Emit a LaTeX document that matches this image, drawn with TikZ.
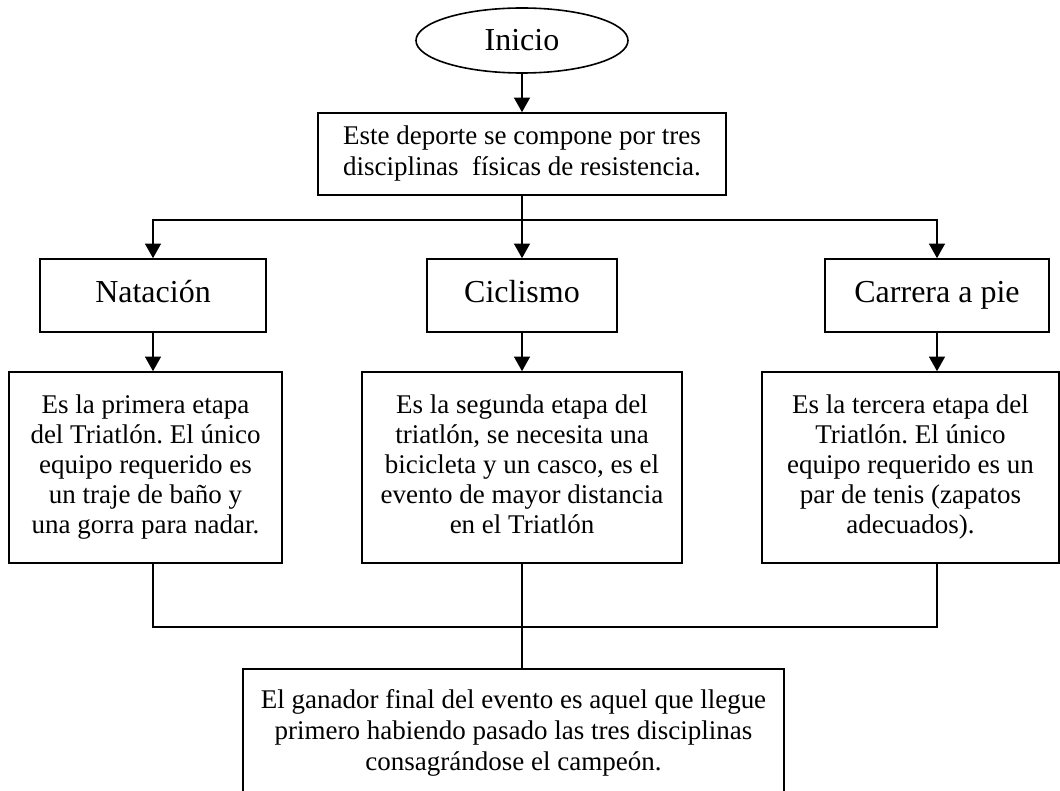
\documentclass[tikz,border=0pt]{standalone}
\usepackage{fontspec}
\setmainfont{Liberation Serif}
\usetikzlibrary{arrows.meta,shapes.geometric}
\frenchspacing
\begin{document}
\begin{tikzpicture}[x=0.75pt,y=-0.75pt,
  box/.style={draw,line width=1.2pt,rectangle,inner sep=0pt,align=center},
  head/.style={box,font=\fontsize{24}{28}\selectfont,minimum height=54.75pt},
  txt/.style={box,font=\fontsize{20.25}{22.5}\selectfont,minimum height=143.25pt},
  arr/.style={line width=1.2pt,-{Triangle[width=12pt,length=11pt]}},
  con/.style={line width=1.2pt}]
\path[use as bounding box,clip] (0,0) rectangle (1060,791);

\node[draw,ellipse,line width=1.2pt,minimum width=159pt,minimum height=48.75pt,inner sep=0pt,font=\fontsize{24}{28}\selectfont] (inicio) at (522,40.5) {\raisebox{-2pt}{Inicio}};
\node[box,font=\fontsize{20.25}{23.25}\selectfont,minimum width=306pt,minimum height=61.5pt] (intro) at (522,154) {\strut Este deporte se compone por tres\\disciplinas\ \ físicas de resistencia.\strut};

\node[head,minimum width=169.5pt] (nat) at (153,295.5) {\strut Natación};
\node[head,minimum width=142.5pt] (cic) at (522,295.5) {\strut Ciclismo};
\node[head,minimum width=168pt] (car) at (937,295.5) {\strut Carrera a pie};

\node[txt,minimum width=204.75pt] (ta) at (145.5,467.5) {\strut Es la primera etapa\\del Triatlón. El único\\equipo requerido es\\un traje de baño y\\una gorra para nadar.\strut};
\node[txt,minimum width=240pt] (tb) at (522,467.5) {\strut Es la segunda etapa del\\triatlón, se necesita una\\bicicleta y un casco, es el\\evento de mayor distancia\\en el Triatlón\strut};
\node[txt,minimum width=222.75pt] (tc) at (910.5,467.5) {\strut Es la tercera etapa del\\Triatlón. El único\\equipo requerido es un\\par de tenis (zapatos\\adecuados).\strut};
\node[box,font=\fontsize{20.25}{23.25}\selectfont,minimum width=405.75pt,minimum height=96pt] (final) at (513.5,733) {\strut El ganador final del evento es aquel que llegue\\primero habiendo pasado las tres disciplinas\\consagrándose el campeón.\strut};

\coordinate (bus) at (522,220);
\coordinate (join) at (522,627);
\draw[arr] (inicio) -- (intro);
\draw[arr] (intro) -- (cic);
\draw[arr] (bus) -| (nat.north);
\draw[arr] (bus) -| (car.north);
\draw[arr] (nat) -- (nat.south |- ta.north);
\draw[arr] (cic) -- (tb);
\draw[arr] (car) -- (car.south |- tc.north);
\draw[con] (ta.south -| nat.south) |- (join) -| (tc.south -| car.south);
\draw[con] (tb) -- (tb.south |- final.north);
\end{tikzpicture}
\end{document}
